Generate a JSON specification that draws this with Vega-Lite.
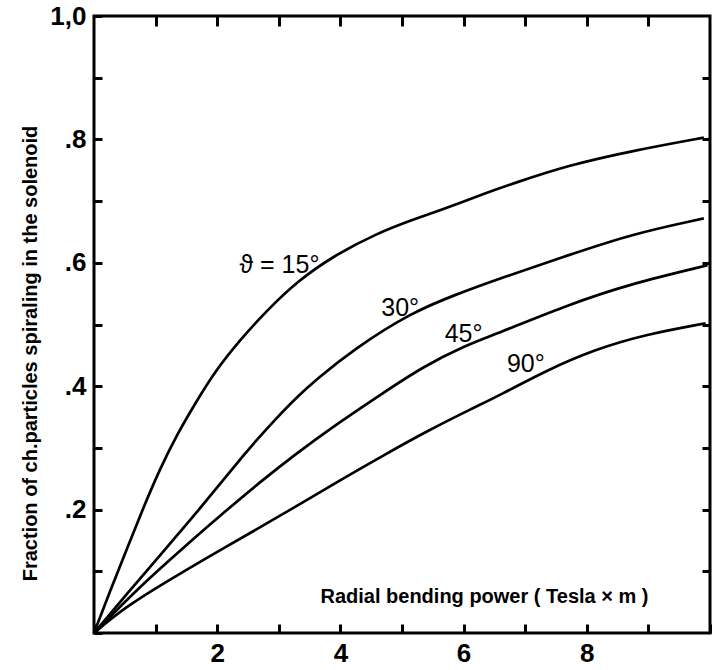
{
  "$schema": "https://vega.github.io/schema/vega-lite/v6.json",
  "width": 616,
  "height": 617,
  "autosize": {"type": "none"},
  "padding": {"left": 94, "top": 16, "right": 5, "bottom": 37},
  "background": "white",
  "config": {
    "view": {"stroke": "black", "strokeWidth": 3},
    "axis": {
      "domain": false,
      "grid": false,
      "ticks": true,
      "tickColor": "black",
      "tickWidth": 3,
      "labelColor": "black",
      "labelFont": "Liberation Sans, Arial, sans-serif",
      "labelFontSize": 26,
      "labelFontWeight": "bold",
      "titleColor": "black",
      "titleFont": "Liberation Sans, Arial, sans-serif",
      "titleFontSize": 20,
      "titleFontWeight": "bold"
    }
  },
  "datasets": {
    "curves": [
      {"curve": "15", "x": 0, "y": 0},
      {"curve": "15", "x": 0.3, "y": 0.078},
      {"curve": "15", "x": 0.55, "y": 0.14},
      {"curve": "15", "x": 0.8, "y": 0.203},
      {"curve": "15", "x": 1.07, "y": 0.266},
      {"curve": "15", "x": 1.35, "y": 0.322},
      {"curve": "15", "x": 1.63, "y": 0.37},
      {"curve": "15", "x": 1.97, "y": 0.425},
      {"curve": "15", "x": 2.37, "y": 0.475},
      {"curve": "15", "x": 2.81, "y": 0.523},
      {"curve": "15", "x": 3.3, "y": 0.57},
      {"curve": "15", "x": 3.9, "y": 0.612},
      {"curve": "15", "x": 4.6, "y": 0.648},
      {"curve": "15", "x": 5.18, "y": 0.67},
      {"curve": "15", "x": 5.62, "y": 0.685},
      {"curve": "15", "x": 6.44, "y": 0.716},
      {"curve": "15", "x": 6.76, "y": 0.727},
      {"curve": "15", "x": 7.69, "y": 0.758},
      {"curve": "15", "x": 8.76, "y": 0.782},
      {"curve": "15", "x": 9.9, "y": 0.803},
      {"curve": "30", "x": 0, "y": 0},
      {"curve": "30", "x": 0.65, "y": 0.077},
      {"curve": "30", "x": 1.2, "y": 0.141},
      {"curve": "30", "x": 1.75, "y": 0.205},
      {"curve": "30", "x": 2.25, "y": 0.267},
      {"curve": "30", "x": 2.65, "y": 0.314},
      {"curve": "30", "x": 2.95, "y": 0.347},
      {"curve": "30", "x": 3.3, "y": 0.383},
      {"curve": "30", "x": 3.61, "y": 0.411},
      {"curve": "30", "x": 4.22, "y": 0.46},
      {"curve": "30", "x": 5.14, "y": 0.519},
      {"curve": "30", "x": 5.91, "y": 0.55},
      {"curve": "30", "x": 6.57, "y": 0.574},
      {"curve": "30", "x": 7.66, "y": 0.611},
      {"curve": "30", "x": 8.74, "y": 0.647},
      {"curve": "30", "x": 9.9, "y": 0.672},
      {"curve": "45", "x": 0, "y": 0},
      {"curve": "45", "x": 0.76, "y": 0.077},
      {"curve": "45", "x": 1.47, "y": 0.14},
      {"curve": "45", "x": 2.08, "y": 0.193},
      {"curve": "45", "x": 2.7, "y": 0.245},
      {"curve": "45", "x": 3.26, "y": 0.289},
      {"curve": "45", "x": 3.9, "y": 0.336},
      {"curve": "45", "x": 4.69, "y": 0.389},
      {"curve": "45", "x": 5.35, "y": 0.432},
      {"curve": "45", "x": 6.0, "y": 0.465},
      {"curve": "45", "x": 6.54, "y": 0.485},
      {"curve": "45", "x": 7.64, "y": 0.53},
      {"curve": "45", "x": 8.71, "y": 0.566},
      {"curve": "45", "x": 9.96, "y": 0.596},
      {"curve": "90", "x": 0, "y": 0},
      {"curve": "90", "x": 0.48, "y": 0.04},
      {"curve": "90", "x": 1.14, "y": 0.081},
      {"curve": "90", "x": 1.85, "y": 0.123},
      {"curve": "90", "x": 2.5, "y": 0.16},
      {"curve": "90", "x": 3.23, "y": 0.202},
      {"curve": "90", "x": 4.0, "y": 0.248},
      {"curve": "90", "x": 4.7, "y": 0.288},
      {"curve": "90", "x": 5.42, "y": 0.328},
      {"curve": "90", "x": 6.14, "y": 0.364},
      {"curve": "90", "x": 6.6, "y": 0.386},
      {"curve": "90", "x": 7.33, "y": 0.425},
      {"curve": "90", "x": 8.14, "y": 0.46},
      {"curve": "90", "x": 8.96, "y": 0.484},
      {"curve": "90", "x": 9.93, "y": 0.502}
    ],
    "labels": [
      {"label": "ϑ = 15°", "x": 3.01, "y": 0.597},
      {"label": "30°", "x": 4.97, "y": 0.527},
      {"label": "45°", "x": 6.0, "y": 0.485},
      {"label": "90°", "x": 7.01, "y": 0.436}
    ]
  },
  "layer": [
    {
      "data": {"name": "curves"},
      "mark": {"type": "line", "color": "black", "strokeWidth": 2.7, "interpolate": "basis"},
      "encoding": {
        "x": {
          "field": "x", "type": "quantitative",
          "scale": {"domain": [0, 10], "nice": false},
          "axis": {
            "orient": "bottom",
            "values": [0, 1, 2, 3, 4, 5, 6, 7, 8, 9, 10],
            "labelExpr": "(datum.value % 2 == 0 && datum.value > 0 && datum.value < 10) ? datum.label : ''",
            "tickSize": -9,
            "labelPadding": 16,
            "labelBaseline": "top",
            "title": "Radial bending power ( Tesla × m )",
            "titleX": 390,
            "titleY": -37,
            "titleAlign": "center",
            "titleBaseline": "middle",
            "titleAnchor": null
          }
        },
        "y": {
          "field": "y", "type": "quantitative",
          "scale": {"domain": [0, 1], "nice": false},
          "axis": {
            "orient": "left",
            "values": [0, 0.1, 0.2, 0.3, 0.4, 0.5, 0.6, 0.7, 0.8, 0.9, 1.0],
            "labelExpr": "datum.value == 1 ? '1,0' : ((datum.value == 0.2 || datum.value == 0.4 || datum.value == 0.6 || datum.value == 0.8) ? replace(format(datum.value, '.1f'), '0.', '.') : '')",
            "tickSize": -8,
            "labelPadding": 16,
            "title": "Fraction of ch.particles spiraling in the solenoid",
            "titleX": -64,
            "titleY": 337,
            "titleAngle": 270,
            "titleAlign": "center",
            "titleBaseline": "middle",
            "titleAnchor": null
          }
        },
        "detail": {"field": "curve"}
      }
    },
    {
      "data": {"name": "labels"},
      "mark": {"type": "text", "color": "black", "font": "Liberation Sans, Arial, sans-serif", "fontSize": 25, "align": "center", "baseline": "middle"},
      "encoding": {
        "x": {
          "field": "x", "type": "quantitative",
          "scale": {"domain": [0, 10], "nice": false},
          "axis": {"orient": "top", "values": [1, 2, 3, 4, 5, 6, 7, 8, 9], "labels": false, "tickSize": -10, "title": null}
        },
        "y": {
          "field": "y", "type": "quantitative",
          "scale": {"domain": [0, 1], "nice": false},
          "axis": {"orient": "right", "values": [0.1, 0.2, 0.3, 0.4, 0.5, 0.6, 0.7, 0.8, 0.9], "labels": false, "tickSize": -8, "title": null}
        },
        "text": {"field": "label"}
      }
    }
  ],
  "resolve": {"axis": {"x": "independent", "y": "independent"}}
}
